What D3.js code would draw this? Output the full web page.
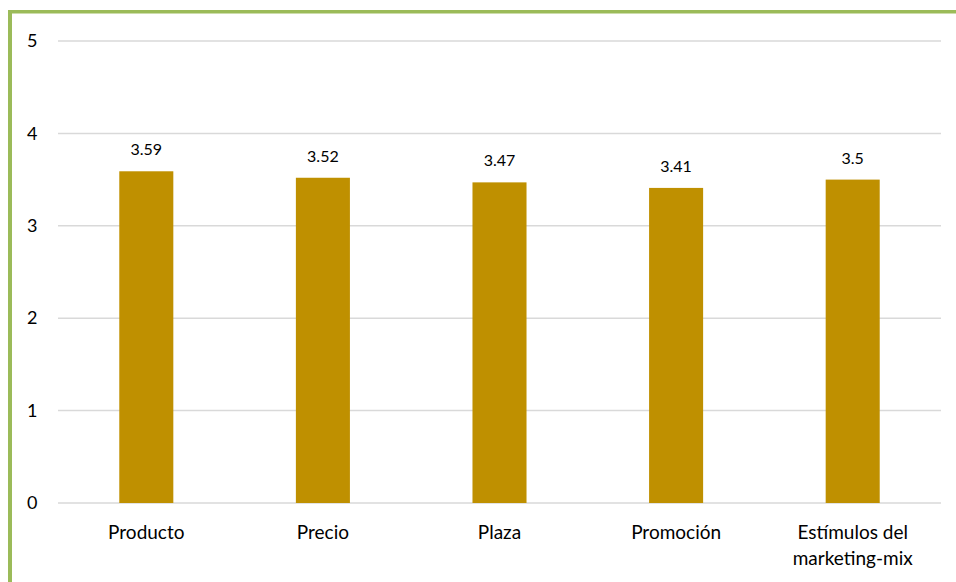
<!DOCTYPE html>
<html>
<head>
<meta charset="utf-8">
<script src="https://cdn.jsdelivr.net/npm/d3@7"></script>
<style>
  html, body { margin: 0; padding: 0; background: #fff; }
  svg { display: block; }
  text { font-family: Lato, "Open Sans", sans-serif; fill: #000; }
</style>
</head>
<body>
<svg id="chart" width="956" height="582"></svg>
<script>
// Mean score per marketing-mix dimension
const categories = ["Producto", "Precio", "Plaza", "Promoción", "Estímulos del marketing-mix"];
const values = [3.59, 3.52, 3.47, 3.41, 3.5];
const valueLabels = ["3.59", "3.52", "3.47", "3.41", "3.5"];
const yTicks = [0, 1, 2, 3, 4, 5];

const W = 956, H = 582;
const margin = { top: 41, right: 15, bottom: 79, left: 58 };
const svg = d3.select("#chart");

// Green frame on the top and left edges
svg.append("rect").attr("x", 8).attr("y", 10).attr("width", W - 8).attr("height", 3.5).attr("fill", "#9BBB59");
svg.append("rect").attr("x", 8).attr("y", 10).attr("width", 4).attr("height", H - 10).attr("fill", "#9BBB59");

const x = d3.scaleBand()
  .domain(categories)
  .range([margin.left, W - margin.right])
  .paddingInner(0.694)
  .paddingOuter(0.347);

const y = d3.scaleLinear()
  .domain([0, 5])
  .range([H - margin.bottom, margin.top]);

// Horizontal gridlines
svg.append("g")
  .selectAll("line")
  .data(yTicks)
  .join("line")
  .attr("x1", margin.left)
  .attr("x2", W - margin.right)
  .attr("y1", d => y(d))
  .attr("y2", d => y(d))
  .attr("stroke", "#d9d9d9")
  .attr("stroke-width", 1.5);

// Y-axis tick labels
const yAxis = d3.axisLeft(y).tickValues(yTicks).tickSize(0).tickPadding(0).tickFormat(d3.format("d"));
const gy = svg.append("g").attr("transform", `translate(${37.5},0)`).call(yAxis);
gy.select(".domain").remove();
gy.selectAll("text").attr("font-size", 18).attr("font-family", "Lato, sans-serif").attr("fill", "#000");

// Bars
svg.append("g")
  .selectAll("rect")
  .data(values)
  .join("rect")
  .attr("x", (d, i) => x(categories[i]))
  .attr("width", x.bandwidth())
  .attr("y", d => y(d))
  .attr("height", d => y(0) - y(d))
  .attr("fill", "#BF9000");

// Value labels above bars
svg.append("g")
  .selectAll("text")
  .data(values)
  .join("text")
  .attr("x", (d, i) => x(categories[i]) + x.bandwidth() / 2)
  .attr("y", d => y(d) - 16)
  .attr("text-anchor", "middle")
  .attr("font-size", 16)
  .text((d, i) => valueLabels[i]);

// Category labels, wrapped onto two lines where needed
const xLabels = svg.append("g")
  .selectAll("text")
  .data(categories)
  .join("text")
  .attr("x", d => x(d) + x.bandwidth() / 2)
  .attr("y", H - margin.bottom + 35.5)
  .attr("text-anchor", "middle")
  .attr("font-size", 19);

xLabels.each(function(d) {
  const t = d3.select(this);
  const lines = d === "Estímulos del marketing-mix" ? ["Estímulos del", "marketing-mix"] : [d];
  lines.forEach((ln, k) => {
    t.append("tspan")
      .attr("x", t.attr("x"))
      .attr("dy", k === 0 ? 0 : 26)
      .text(ln);
  });
});
</script>
</body>
</html>
